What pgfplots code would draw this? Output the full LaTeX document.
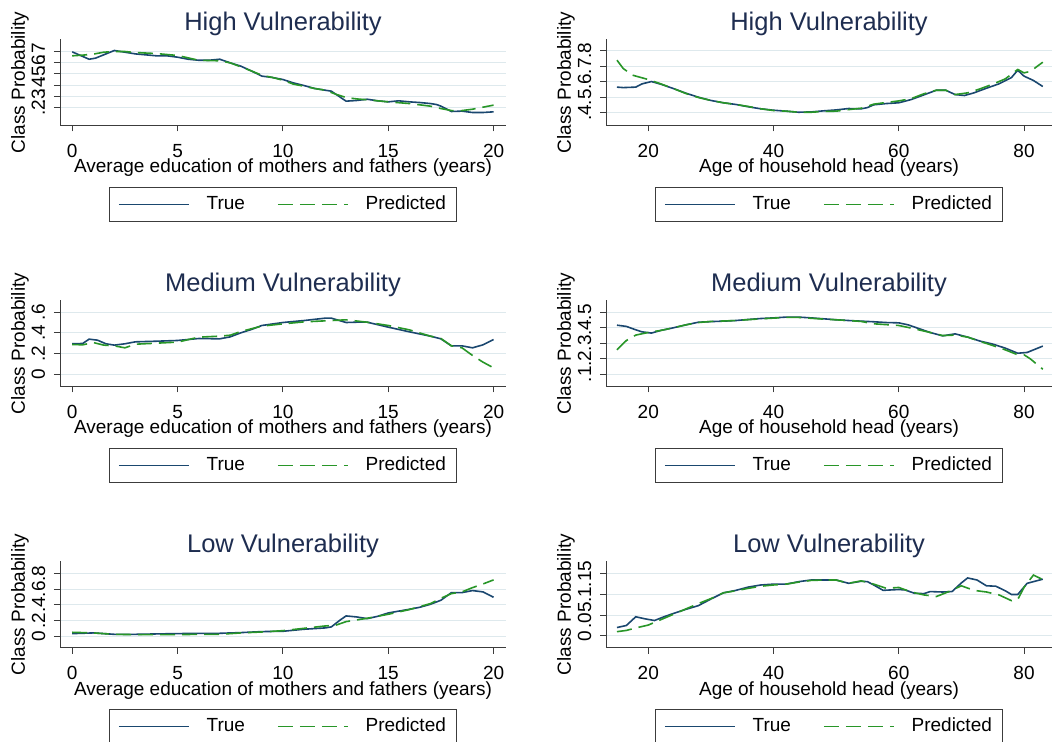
\documentclass[border=0pt]{standalone}
\usepackage{fontspec}
\setmainfont{Liberation Sans}
\usepackage{pgfplots}
\pgfplotsset{compat=1.18}

\definecolor{truecol}{RGB}{26,71,111}
\definecolor{predcol}{RGB}{40,150,40}
\definecolor{titlecol}{RGB}{30,45,80}
\definecolor{gridcol}{RGB}{222,233,237}
\definecolor{axiscol}{RGB}{60,60,60}

\pgfplotsset{
  panel/.style={
    scale only axis, width=446bp, height=86bp,
    axis x line*=bottom, axis y line*=left,
    axis line style={axiscol, line width=0.9bp},
    every tick/.style={axiscol, line width=0.9bp},
    tick align=outside, major tick length=6bp,
    ymajorgrids, grid style={gridcol, line width=0.9bp},
    /pgf/number format/assume math mode=true,
    font=\fontsize{19bp}{22bp}\selectfont,
    title style={font=\fontsize{25.5bp}{30bp}\selectfont, text=titlecol,
      at={(axis description cs:0.5,1)}, anchor=base, yshift=2.6bp},
    xticklabel style={anchor=base, yshift=-26bp},
    yticklabel style={xshift=-9bp, rotate=90, anchor=base},
    xlabel style={at={(axis description cs:0.5,0)}, anchor=base, yshift=-47.5bp},
    every axis y label/.style={at={(axis description cs:-0.0785,0.5)}, rotate=90, anchor=base},
    ylabel={Class Probability},
    legend columns=2,
    legend style={at={(axis description cs:0.5,-0.715)}, anchor=north,
      draw=axiscol, line width=0.9bp, inner xsep=8.5bp, inner ysep=2bp,
      font=\fontsize{19bp}{22bp}\selectfont,
      nodes={text height=14bp, text depth=4bp, inner ysep=6bp},
      /tikz/every odd column/.append style={column sep=15bp},
      /tikz/every even column/.append style={column sep=30bp}},
    legend image code/.code={\draw[##1] (0bp,0bp) -- (70bp,0bp);},
  },
  edu/.style={panel, xmin=-0.58, xmax=20.59, xtick={0,5,10,15,20},
    xticklabels={0,5,10,15,20},
    xlabel={Average education of mothers and fathers (years)}},
  age/.style={panel, xmin=13.25, xmax=84.47, xtick={20,40,60,80},
    xticklabels={20,40,60,80},
    xlabel={Age of household head (years)}},
  truel/.style={truecol, line width=1.6bp},
  predl/.style={predcol, line width=1.6bp, dash pattern=on 15bp off 7bp},
}

\begin{document}
\begin{tikzpicture}
\useasboundingbox (0,0) rectangle (1055bp,742bp);

% ---------- High vulnerability: education ----------
\begin{axis}[edu, at={(60bp,616.5bp)}, anchor=south west,
  title={High Vulnerability}, ymin=0.0444, ymax=0.803,
  ytick={0.2,0.3,0.4,0.5,0.6,0.7}, yticklabels={.2,.3,.4,.5,.6,.7}]
\addplot[truel] coordinates {(0,0.694) (0.8,0.629) (1.1,0.638) (2,0.706) (3,0.676)
 (4,0.659) (4.5,0.659) (5,0.647) (5.5,0.629) (6,0.620) (6.5,0.620) (7,0.629)
 (7.5,0.597) (8,0.568) (8.5,0.526) (9,0.480) (9.5,0.468) (10,0.450) (10.5,0.420)
 (11,0.397) (11.5,0.371) (12,0.356) (12.3,0.347) (13,0.259) (13.5,0.265)
 (14,0.276) (14.5,0.262) (15,0.253) (15.5,0.262) (16,0.253) (16.5,0.247)
 (17,0.238) (17.3,0.229) (17.5,0.215) (18,0.168) (18.5,0.171) (19,0.159)
 (19.5,0.159) (20,0.165)};
\addlegendentry{True}
\addplot[predl] coordinates {(0,0.659) (0.5,0.665) (1,0.674) (1.5,0.691) (2,0.697)
 (2.5,0.697) (3,0.688) (4,0.679) (5,0.662) (6,0.620) (7,0.615) (7.5,0.597)
 (8,0.562) (8.5,0.526) (9,0.488) (9.5,0.468) (10,0.444) (10.5,0.409) (11,0.391)
 (11.5,0.371) (12,0.356) (12.5,0.321) (13,0.291) (13.5,0.279) (14,0.271)
 (15,0.253) (16,0.238) (17,0.215) (17.5,0.194) (18,0.176) (18.5,0.176)
 (19,0.188) (19.5,0.206) (20,0.224)};
\addlegendentry{Predicted}
\end{axis}

% ---------- High vulnerability: age ----------
\begin{axis}[age, at={(606bp,616.5bp)}, anchor=south west,
  title={High Vulnerability}, ymin=0.3185, ymax=0.8733,
  ytick={0.4,0.5,0.6,0.7,0.8}, yticklabels={.4,.5,.6,.7,.8}]
\addplot[truel] coordinates {(15,0.566) (16,0.563) (18,0.566) (19,0.587) (20.5,0.602)
 (22,0.585) (24,0.557) (26,0.527) (28,0.501) (30,0.480) (32,0.465) (34,0.454)
 (36,0.439) (38,0.426) (40,0.417) (42,0.411) (44,0.404) (46,0.406) (48,0.413)
 (50,0.419) (52,0.428) (54,0.426) (55,0.434) (56,0.452) (58,0.460) (60,0.465)
 (62,0.486) (64,0.516) (66,0.546) (67.5,0.546) (69,0.518) (70.5,0.512)
 (72,0.529) (74,0.559) (76,0.587) (78,0.628) (79,0.675) (80,0.637)
 (81.5,0.609) (83,0.570)};
\addlegendentry{True}
\addplot[predl] coordinates {(15,0.740) (16,0.686) (17.5,0.643) (20,0.615) (22,0.587)
 (24,0.557) (26,0.525) (28,0.499) (30,0.480) (32,0.465) (34,0.454) (36,0.441)
 (38,0.426) (40,0.415) (42,0.411) (44,0.404) (46,0.404) (48,0.409) (50,0.411)
 (52,0.421) (54,0.430) (56,0.456) (58,0.467) (60,0.477) (62,0.492) (64,0.523)
 (66,0.546) (67.5,0.546) (69,0.518) (71,0.529) (73,0.555) (75,0.585)
 (77,0.619) (79,0.680) (80,0.658) (81,0.667) (83,0.727)};
\addlegendentry{Predicted}
\end{axis}

% ---------- Medium vulnerability: education ----------
\begin{axis}[edu, at={(60bp,355.5bp)}, anchor=south west,
  title={Medium Vulnerability}, ymin=-0.1193, ymax=0.713,
  ytick={0,0.2,0.4,0.6}, yticklabels={0,.2,.4,.6}]
\addplot[truel] coordinates {(0,0.294) (0.5,0.297) (0.8,0.339) (1.2,0.329) (1.6,0.294)
 (2,0.281) (2.5,0.294) (3,0.313) (4,0.319) (5,0.326) (6,0.345) (7,0.342)
 (7.5,0.361) (8,0.400) (8.5,0.432) (9,0.471) (10,0.500) (11,0.519) (12,0.542)
 (12.3,0.542) (13,0.500) (13.5,0.503) (14,0.503) (15,0.455) (16,0.410)
 (17,0.368) (17.5,0.342) (18,0.274) (18.5,0.274) (19,0.255) (19.5,0.284)
 (20,0.335)};
\addlegendentry{True}
\addplot[predl] coordinates {(0,0.287) (0.5,0.284) (1,0.306) (1.5,0.281) (2,0.274)
 (2.5,0.255) (3,0.290) (4,0.300) (5,0.310) (6,0.358) (7,0.368) (7.5,0.377)
 (8,0.413) (9,0.465) (10,0.487) (11,0.506) (12,0.516) (13,0.526) (14,0.503)
 (15,0.471) (16,0.429) (17,0.368) (17.5,0.345) (18,0.274) (18.5,0.255)
 (19,0.181) (19.5,0.116) (20,0.061)};
\addlegendentry{Predicted}
\end{axis}

% ---------- Medium vulnerability: age ----------
\begin{axis}[age, at={(606bp,355.5bp)}, anchor=south west,
  title={Medium Vulnerability}, ymin=0.0204, ymax=0.5752,
  ytick={0.1,0.2,0.3,0.4,0.5}, yticklabels={.1,.2,.3,.4,.5}]
\addplot[truel] coordinates {(15,0.416) (16.5,0.408) (18,0.386) (19,0.373) (20.5,0.365)
 (22,0.382) (24,0.399) (26,0.418) (28,0.435) (30,0.439) (32,0.442) (34,0.446)
 (36,0.453) (38,0.459) (40,0.463) (42,0.468) (44,0.468) (46,0.463) (48,0.457)
 (50,0.451) (52,0.446) (54,0.442) (56,0.438) (58,0.433) (60,0.431)
 (61.5,0.418) (63,0.397) (65,0.369) (67,0.347) (69,0.360) (71,0.339)
 (73,0.313) (75,0.294) (77,0.268) (79,0.235) (80.5,0.240) (83,0.281)};
\addlegendentry{True}
\addplot[predl] coordinates {(15,0.257) (16.5,0.317) (18,0.352) (20,0.369) (22,0.382)
 (24,0.399) (26,0.418) (28,0.433) (30,0.440) (34,0.446) (38,0.457) (42,0.466)
 (44,0.466) (48,0.455) (52,0.446) (54,0.440) (56,0.425) (60,0.414) (62,0.397)
 (65,0.369) (67,0.349) (69,0.352) (71,0.339) (73,0.311) (75,0.285) (77,0.257)
 (79,0.225) (80,0.225) (81,0.199) (83,0.132)};
\addlegendentry{Predicted}
\end{axis}

% ---------- Low vulnerability: education ----------
\begin{axis}[edu, at={(60bp,94.5bp)}, anchor=south west,
  title={Low Vulnerability}, ymin=-0.148, ymax=0.955,
  ytick={0,0.2,0.4,0.6,0.8}, yticklabels={0,.2,.4,.6,.8}]
\addplot[truel] coordinates {(0,0.030) (1,0.039) (2,0.021) (3,0.021) (4,0.026)
 (5,0.030) (6,0.034) (7,0.034) (8,0.043) (9,0.056) (10,0.060) (11,0.086)
 (12,0.103) (12.3,0.116) (12.7,0.201) (13,0.257) (13.5,0.244) (14,0.222)
 (14.5,0.252) (15,0.295) (16,0.342) (16.5,0.368) (17,0.406) (17.5,0.458)
 (18,0.556) (18.5,0.556) (19,0.582) (19.5,0.565) (20,0.496)};
\addlegendentry{True}
\addplot[predl] coordinates {(0,0.047) (1,0.039) (2,0.021) (3,0.017) (4,0.017)
 (5,0.017) (6,0.021) (7,0.021) (8,0.039) (9,0.051) (10,0.068) (11,0.098)
 (12,0.128) (12.5,0.137) (13,0.184) (13.5,0.205) (14,0.227) (15,0.278)
 (16,0.338) (17,0.415) (17.5,0.483) (18,0.543) (18.5,0.565) (19,0.620)
 (19.5,0.667) (20,0.719)};
\addlegendentry{Predicted}
\end{axis}

% ---------- Low vulnerability: age ----------
\begin{axis}[age, at={(606bp,94.5bp)}, anchor=south west,
  title={Low Vulnerability}, ymin=-0.0283, ymax=0.1798,
  ytick={0,0.05,0.1,0.15}, yticklabels={0,.05,.1,.15}]
\addplot[truel] coordinates {(15,0.020) (16.5,0.025) (18,0.046) (19.5,0.041) (21,0.037)
 (22.5,0.046) (24,0.054) (26,0.064) (28,0.073) (30,0.089) (32,0.104) (34,0.110)
 (36,0.118) (38,0.123) (40,0.125) (42,0.125) (44,0.131) (46,0.135) (48,0.135)
 (50,0.135) (52,0.127) (54,0.132) (55,0.131) (56,0.123) (57.5,0.110)
 (60,0.112) (61,0.111) (62.5,0.103) (64,0.102) (65,0.107) (67,0.106)
 (68.5,0.107) (70,0.128) (71,0.140) (72.5,0.135) (74,0.121) (75.5,0.120)
 (77,0.109) (78,0.100) (79,0.100) (80.5,0.127) (83,0.137)};
\addlegendentry{True}
\addplot[predl] coordinates {(15,0.010) (16.5,0.013) (18,0.019) (20,0.026) (22,0.039)
 (24,0.052) (26,0.065) (28,0.078) (30,0.090) (32,0.104) (34,0.109) (36,0.115)
 (38,0.120) (40,0.123) (42,0.125) (44,0.130) (46,0.134) (48,0.135) (50,0.135)
 (52,0.127) (54,0.133) (56,0.125) (58,0.115) (60,0.117) (62,0.106) (64,0.099)
 (66,0.095) (68,0.107) (70,0.121) (72,0.110) (74,0.106) (76,0.099) (78,0.085)
 (79,0.088) (80,0.117) (81.5,0.147) (83,0.136)};
\addlegendentry{Predicted}
\end{axis}
\end{tikzpicture}
\end{document}
